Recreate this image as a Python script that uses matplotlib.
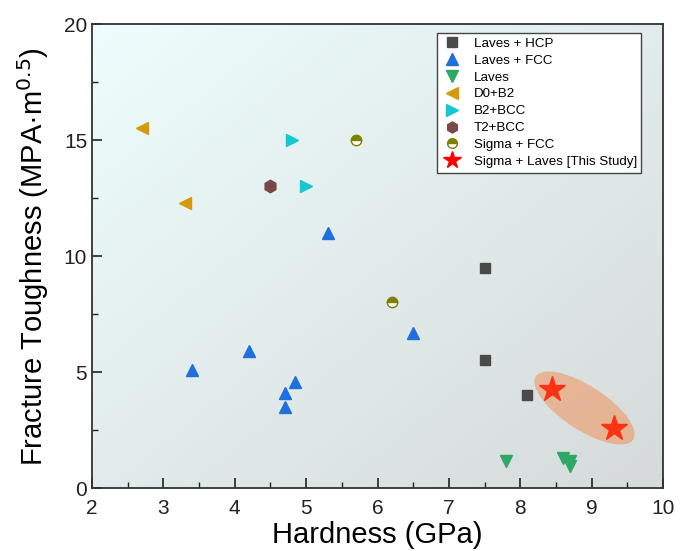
import numpy as np
import matplotlib
matplotlib.use("Agg")
import matplotlib.pyplot as plt
from matplotlib.patches import Ellipse
from matplotlib.transforms import ScaledTranslation
from matplotlib.ticker import MultipleLocator

plt.rcParams['font.family'] = ['Liberation Sans', 'DejaVu Sans']

# Data (hardness GPa, fracture toughness MPa·m^0.5)
hcp_x = [7.5, 7.5, 8.1]
hcp_y = [9.5, 5.5, 4.0]
fcc_x = [5.3, 6.5, 4.2, 3.4, 4.85, 4.7, 4.7]
fcc_y = [11.0, 6.7, 5.9, 5.1, 4.55, 4.1, 3.5]
laves_x = [7.8, 8.6, 8.7, 8.7]
laves_y = [1.15, 1.3, 1.15, 0.95]
d0b2_x = [2.7, 3.3]
d0b2_y = [15.5, 12.3]
b2bcc_x = [4.8, 5.0]
b2bcc_y = [15.0, 13.0]
t2bcc_x = [4.5]
t2bcc_y = [13.0]
sigfcc_x = [5.7, 6.2]
sigfcc_y = [15.0, 8.0]
study_x = [8.45, 9.32]
study_y = [4.25, 2.6]

fig = plt.figure(figsize=(6.8, 5.51), dpi=100)
ax = fig.add_axes([0.1353, 0.1143, 0.8397, 0.8421])

# gradient background: light cyan top-left -> grey bottom-right
n = 200
gx, gy = np.meshgrid(np.linspace(0, 1, n), np.linspace(0, 1, n))
t = np.clip((gx + gy) / 2.0, 0, 1)  # row 0 is top with origin='upper'
c0 = np.array([238, 253, 253]) / 255.0
c1 = np.array([214, 218, 218]) / 255.0
img = c0[None, None, :] * (1 - t[..., None]) + c1[None, None, :] * t[..., None]
ax.imshow(img, extent=[0, 1, 0, 1], transform=ax.transAxes, origin='upper',
          aspect='auto', zorder=0)

ax.plot(hcp_x, hcp_y, ls='none', marker='s', ms=6.5, color='#4a4a4a', label='Laves + HCP', zorder=3)
ax.plot(fcc_x, fcc_y, ls='none', marker='^', ms=9, color='#1f6fdc', label='Laves + FCC', zorder=3)
ax.plot(laves_x, laves_y, ls='none', marker='v', ms=9, color='#2fa866', label='Laves', zorder=3)
ax.plot(d0b2_x, d0b2_y, ls='none', marker='<', ms=9, color='#d49a0a', label='D0+B2', zorder=3)
ax.plot(b2bcc_x, b2bcc_y, ls='none', marker='>', ms=9, color='#14c8d2', label='B2+BCC', zorder=3)
ax.plot(t2bcc_x, t2bcc_y, ls='none', marker='h', ms=9, color='#7a4848', label='T2+BCC', zorder=3)
ax.plot(sigfcc_x, sigfcc_y, ls='none', marker='o', ms=7.5, fillstyle='top',
        markerfacecolor='#7f7f00', markerfacecoloralt='white', markeredgecolor='#7f7f00',
        markeredgewidth=1.0, label='Sigma + FCC', zorder=3)
ax.plot(study_x, study_y, ls='none', marker='*', ms=19, color='#ff0000', label='Sigma + Laves [This Study]', zorder=3)

# highlight ellipse (sized in inches, centred in data coords)
cx, cy = 8.9, 3.45
ell = Ellipse((0, 0), width=1.16, height=0.44, angle=-33,
              transform=fig.dpi_scale_trans + ScaledTranslation(cx, cy, ax.transData),
              facecolor='#f67a31', alpha=0.42, edgecolor='none', zorder=4)
ax.add_patch(ell)

ax.set_xlim(2, 10)
ax.set_ylim(0, 20)
ax.xaxis.set_major_locator(MultipleLocator(1))
ax.xaxis.set_minor_locator(MultipleLocator(0.5))
ax.yaxis.set_major_locator(MultipleLocator(5))
ax.yaxis.set_minor_locator(MultipleLocator(2.5))
ax.tick_params(which='both', direction='in', labelsize=15, colors='#222222')
ax.tick_params(which='major', length=7, width=1.2)
ax.tick_params(which='minor', length=4, width=1.0)
ax.tick_params(axis='x', pad=8)
for s in ax.spines.values():
    s.set_linewidth(1.3)
    s.set_color('#333333')

ax.set_xlabel('Hardness (GPa)', fontsize=21, labelpad=2)
ax.set_ylabel('Fracture Toughness (MPA·m$^{0.5}$)', fontsize=21, labelpad=9)

leg = ax.legend(loc='upper left', bbox_to_anchor=(0.604, 0.981), fontsize=9.6,
                frameon=True, fancybox=False, edgecolor='#444444', facecolor='white',
                framealpha=1, borderpad=0.35, handletextpad=0.8, labelspacing=0.34,
                handlelength=1.6, borderaxespad=0)
leg.get_frame().set_linewidth(1.0)
legend_sizes = [6.5, 9, 9, 9, 9, 8, 7, 13]
for h, sz in zip(leg.legend_handles, legend_sizes):
    h.set_markersize(sz)

fig.savefig('out.png', dpi=100)
